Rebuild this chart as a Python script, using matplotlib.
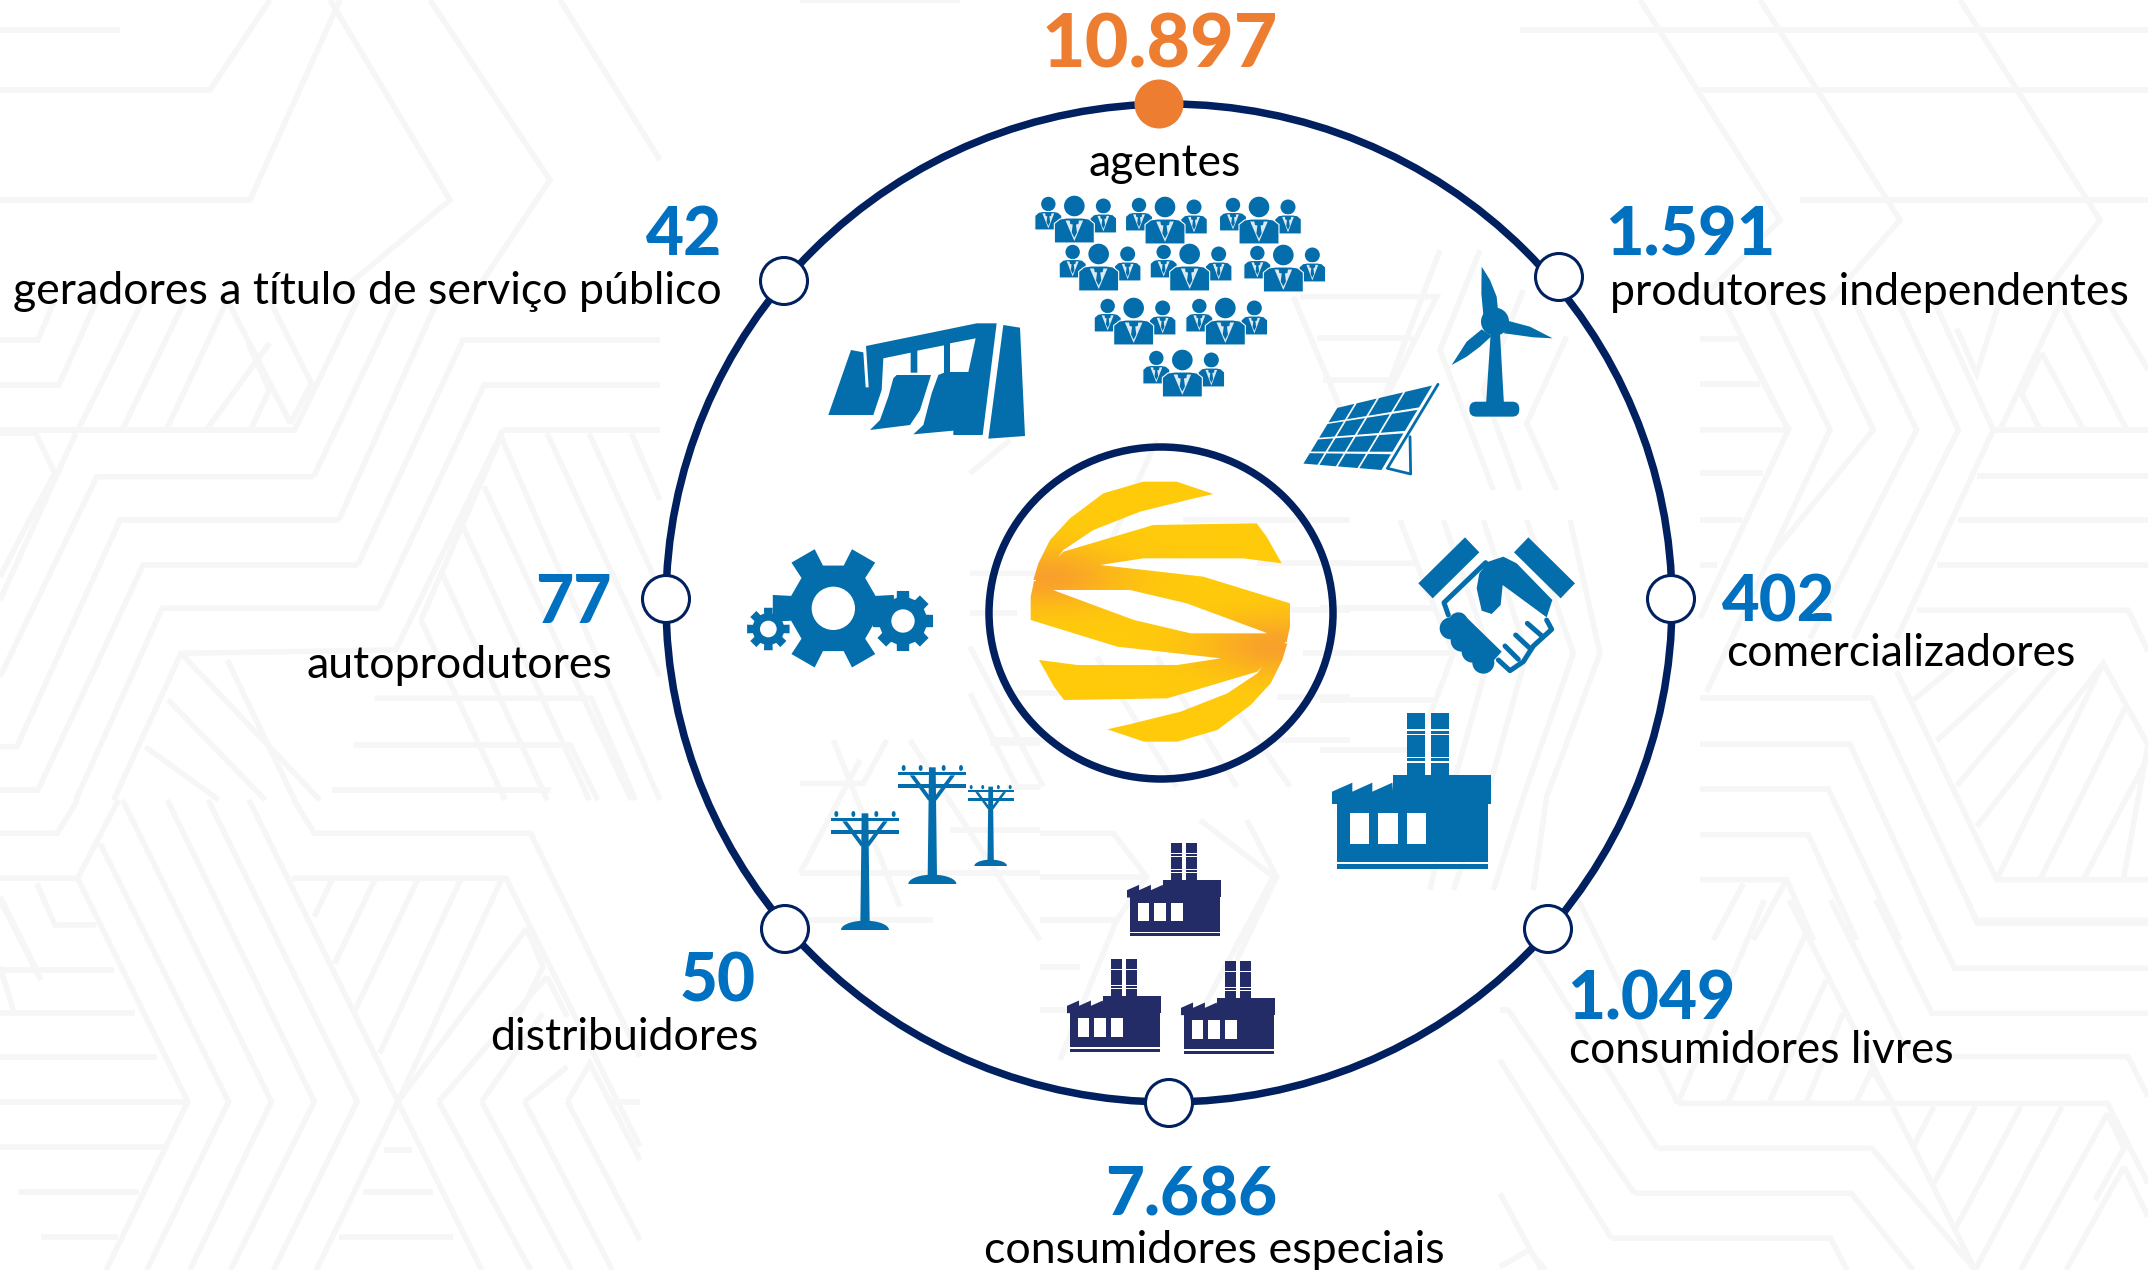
import numpy as np
import matplotlib
matplotlib.use('Agg')
import matplotlib.pyplot as plt
from matplotlib.patches import Ellipse, Circle, Polygon, FancyBboxPatch, PathPatch
from matplotlib.path import Path

# ---------- data ----------
total_value = '10.897'
total_label = 'agentes'
values = ['1.591', '402', '1.049', '7.686', '50', '77', '42']
labels = ['produtores independentes', 'comercializadores', 'consumidores livres',
          'consumidores especiais', 'distribuidores', 'autoprodutores',
          'geradores a título de serviço público']

# ---------- styles ----------
NAVY = '#002060'; BLUE = '#0070c0'; ICON = '#036eab'; DARK = '#232c66'
ORANGE = '#ed7d31'; BG = '#f6f6f6'
W, H = 2148, 1270
fig = plt.figure(figsize=(W/100, H/100), dpi=100, facecolor='white')
ax = fig.add_axes([0, 0, 1, 1])
ax.set_xlim(0, W); ax.set_ylim(H, 0); ax.axis('off')

# ---------- faint background ----------
def bg(ox, oy, sx, sy, lines):
    for ln in lines:
        a = np.array(ln, float)
        ax.plot(ox + a[:, 0]/sx, oy + a[:, 1]/sy, color=BG, lw=4.0, zorder=0,
                solid_joinstyle='miter', solid_capstyle='butt')

bg(0, 800, 2.45, 3, [
    [(0,100),(140,100),(190,0)], [(0,235),(190,235),(290,0)],
    [(190,235),(460,905),(260,1410)], [(300,0),(665,905),(465,1410)],
    [(245,130),(560,905),(360,1410)], [(410,0),(770,905),(565,1410)],
    [(510,0),(875,905),(670,1410)], [(610,0),(975,905),(775,1410)],
    [(0,905),(460,905)], [(0,770),(385,770)], [(0,640),(330,640)], [(0,510),(280,510)],
    [(0,1040),(400,1040)], [(45,1175),(340,1175)], [(100,1310),(290,1310)],
    [(90,250),(135,375),(235,375)], [(0,290),(90,510)], [(0,500),(35,640)],
    [(720,0),(770,100),(1300,100),(1568,770)], [(715,235),(1240,235),(1568,1040)],
    [(1290,385),(1330,500),(1270,650)], [(1340,530),(1390,650)],
    [(975,905),(1290,385)], [(1075,905),(1340,530)], [(1180,905),(1330,640)], [(1285,905),(1390,800)],
    [(1075,905),(1300,1410)], [(1180,905),(1400,1410)], [(1285,905),(1500,1410)], [(1390,905),(1568,1320)],
    [(975,905),(1180,1410)], [(1390,905),(1445,790),(1568,1080)],
    [(815,235),(770,350)], [(920,235),(820,490)], [(1025,235),(870,630)], [(1130,235),(930,760)],
    [(1230,235),(975,905)],
    [(0,300),(100,540)],
    [(940,1050),(1010,1050)], [(890,1175),(1060,1175)], [(830,1310),(1110,1310)],
    [(1500,905),(1568,905)],
])
bg(0, 300, 2.376, 3, [
    [(0,120),(90,120),(130,0)], [(0,255),(140,255),(230,0)],
    [(0,390),(700,390),(850,0)], [(185,390),(340,0)], [(290,390),(440,0)],
    [(395,390),(540,0)], [(490,390),(640,130)], [(595,390),(640,270)],
    [(540,0),(690,370)], [(640,0),(740,250),(690,370)], [(590,130),(640,270)],
    [(745,530),(230,530),(0,1130)], [(805,660),(285,660),(40,1340),(0,1340)],
    [(745,530),(945,0)], [(805,660),(1040,0)],
    [(850,795),(340,795),(90,1470),(0,1470)], [(850,795),(1100,120),(1568,120)],
    [(900,925),(385,925),(180,1500)], [(900,925),(1150,255),(1568,255)],
    [(1195,390),(1568,390)], [(1195,390),(940,1050),(430,1060),(270,1500)],
    [(0,400),(85,400),(130,520),(70,660),(0,830)], [(180,400),(0,900)],
    [(1000,960),(1190,410),(1568,1500)], [(1150,560),(1500,1500)],
    [(1100,680),(1400,1500)], [(1050,820),(1300,1500)],
    [(1000,960),(1200,1500)], [(1300,400),(1568,1130)], [(1400,400),(1568,870)], [(1500,400),(1568,600)],
    [(430,1060),(760,1500)], [(540,1080),(700,1500)], [(400,1200),(630,1500)], [(345,1340),(520,1500)],
    [(890,1195),(1405,1195),(1510,1500)], [(840,1335),(1355,1335),(1420,1500)], [(790,1470),(1310,1470)],
])
bg(1700, 300, 3, 2.45, [
    [(0,95),(120,95),(265,318)], [(0,205),(180,205)], [(0,318),(265,318),(0,780)],
    [(70,0),(265,318)], [(200,0),(390,318),(20,960)], [(330,0),(520,318),(200,640)],
    [(460,0),(650,318),(330,830)], [(590,0),(775,318),(460,830)], [(700,0),(880,318),(590,830)],
    [(0,425),(190,425)], [(0,540),(125,540)], [(0,650),(50,650)],
    [(880,318),(1344,318)], [(830,430),(1344,430)], [(775,540),(1344,540)], [(710,650),(1344,650)],
    [(650,760),(1285,760),(1344,860)], [(900,318),(1085,0)], [(1025,130),(1150,318)], [(1025,130),(965,230)],
    [(965,230),(1020,318)], [(1085,10),(1280,318)], [(1220,0),(1344,170)], [(770,70),(830,180),(900,0)],
    [(0,975),(515,975),(830,1520),(1344,1520)], [(0,1088),(450,1088),(720,1568)],
    [(0,1198),(385,1198),(600,1568)], [(0,1310),(325,1310),(470,1568)], [(0,1420),(260,1420),(340,1568)],
    [(590,910),(890,1420),(1344,1420)], [(890,1420),(1210,890)], [(1020,1420),(1275,1000)], [(1150,1420),(1344,1120)],
    [(640,980),(760,900)], [(710,1080),(950,900)], [(770,1190),(1070,900)], [(830,1290),(1210,890),(1344,1090),(1270,1420)],
    [(130,1430),(40,1568)], [(260,1420),(160,1568)],
])
bg(1500, 900, 2.42, 3, [
    [(1130,0),(1155,70),(1568,70)], [(1020,0),(1100,205),(1568,205)], [(910,0),(1045,340),(1568,340)],
    [(800,0),(990,470),(1520,470),(1568,590)], [(700,0),(945,600)],
    [(430,610),(1470,610),(1568,850)], [(380,745),(900,745),(1150,1110)],
    [(325,880),(850,880),(1000,1110)], [(270,1015),(800,1015),(840,1110)],
    [(430,610),(640,0)], [(550,610),(740,100)], [(650,610),(790,240)], [(740,610),(830,340)],
    [(860,610),(900,510),(950,610)], [(190,0),(430,610)], [(70,130),(380,745)], [(0,330),(20,330),(325,880)],
    [(0,480),(270,1015)], [(0,880),(100,1110)], [(1000,740),(1050,620)], [(1050,850),(1150,620)],
    [(1100,990),(1260,620)], [(1150,1110),(1360,620)], [(1260,1110),(1470,640)], [(1370,1110),(1510,800)],
    [(1470,640),(1510,745),(1440,900)], [(1000,740),(1150,1110)], [(950,620),(1000,740)], [(1510,800),(1568,950)],
    [(0,1100),(70,1050),(110,1110)],
])
# centre: bands seen behind the icons
bg(1320, 520, 3, 3, [
    [(0,130),(290,130),(400,400),(290,690),(0,690)], [(0,265),(350,265)], [(0,400),(400,400)], [(0,540),(350,540)],
    [(240,0),(290,130)], [(370,0),(510,400),(390,830),(330,1110)], [(490,0),(620,400),(500,830),(400,1110)],
    [(620,0),(760,400),(610,830),(520,1110)], [(750,0),(840,400),(680,830),(640,1110)],
])
bg(1280, 250, 3, 3, [
    [(60,140),(470,140),(290,500)], [(110,265),(400,265)], [(130,390),(340,390)], [(40,140),(200,520)],
    [(480,0),(290,500)], [(600,0),(480,300),(640,720)], [(730,120),(610,420),(720,720)], [(860,260),(740,520),(830,720)],
])
bg(970, 440, 3, 3, [
    [(0,100),(120,0)], [(0,400),(380,400),(560,0)], [(0,520),(140,520)], [(640,240),(1140,240)], [(860,370),(1140,370)],
    [(960,510),(1140,510)], [(1000,640),(1140,640)], [(0,620),(220,1040)], [(0,760),(140,1040)],
    [(130,760),(330,760)], [(70,900),(270,900)], [(380,650),(620,1040)], [(560,650),(800,1040)],
    [(880,900),(1140,900)], [(920,770),(1140,770)], [(780,780),(960,1040)],
])
bg(800, 740, 3, 3, [
    [(0,130),(190,130),(260,0)], [(0,400),(720,400)], [(20,540),(400,540)], [(100,0),(300,500)], [(330,0),(720,600)],
    [(570,10),(720,10)], [(620,140),(720,140)], [(450,270),(720,270)], [(0,400),(180,60)],
])
bg(1040, 820, 3, 3, [
    [(0,40),(220,40),(320,170),(230,300),(0,300)], [(0,170),(310,170)], [(0,440),(120,440)], [(0,570),(90,570)],
    [(480,0),(700,170),(460,620)], [(620,0),(710,170),(590,420)], [(230,300),(60,720)],
])
# upper part of the pattern
bg(0, 0, 1, 1, [
    [(0,90),(210,90),(270,0)], [(0,200),(250,200),(340,0)], [(0,30),(120,30)],
    [(330,0),(450,200),(330,300)], [(430,0),(550,180),(470,300)], [(560,0),(660,160)],
    [(800,0),(960,0)], [(1520,30),(2148,30)], [(1700,90),(2148,90)], [(1800,200),(2148,200)],
    [(1640,0),(1780,220),(1700,300)], [(1760,0),(1900,220),(1830,300)], [(1960,0),(2100,220),(2040,300)],
])

# ---------- main ring ----------
ax.add_patch(Ellipse((1169, 603), 1006, 998, fill=False, ec=NAVY, lw=5.4, zorder=2))

# ---------- logo ----------
def zp(ox, oy, s, pts):
    a = np.array(pts, float)
    return np.column_stack([ox + a[:, 0]/s, oy + a[:, 1]/s])

A = [(730,162),(660,178),(510,215),(370,270),(280,330),(215,420),(190,420),(205,370),(240,300),(300,235),(400,160),(520,125),(620,125)]
B = [(280,335),(550,255),(860,250),(890,290),(935,370),(820,355),(520,355),(390,375),(250,445),(190,430)]
C = [(390,375),(700,410),(960,490),(960,560),(950,605),(880,575),(650,490),(480,450),(250,450),(190,425)]
logo = []
for shape in (A, B, C):
    p = np.array(shape, float)
    logo.append(p)
    logo.append(np.array([1142, 1030]) - p)
logo = [zp(970, 440, 3, p) for p in logo]
paths = [Path(np.vstack([p, p[0]]), closed=True) for p in logo]
compound = Path.make_compound_path(*paths)
gx, gy = np.meshgrid(np.linspace(1020, 1300, 280), np.linspace(470, 755, 285))
def blob(cx, cy):
    return np.exp(-(((gx-cx)/75)**2 + ((gy-cy)/30)**2))
mix = np.clip(blob(1046, 577) + blob(1278, 646), 0, 1)[..., None]
rgb = (1-mix)*np.array([1, .796, .043]) + mix*np.array([.976, .63, .17])
im = ax.imshow(rgb, extent=(1020, 1300, 755, 470), zorder=3, aspect='auto', interpolation='bilinear')
im.set_clip_path(PathPatch(compound, transform=ax.transData))
ax.set_xlim(0, W); ax.set_ylim(H, 0)

ax.add_patch(Ellipse((1161, 613), 344, 332, fill=False, ec=NAVY, lw=5.4, zorder=4))

# ---------- icons ----------
def poly(pts, color=ICON, z=3, **kw):
    ax.add_patch(Polygon(pts, closed=True, fc=color, zorder=z, **{'ec': 'none', **kw}))

def person(cx, cy, r, bw, top, bottom, z):
    ax.add_patch(Circle((cx, cy), r, fc=ICON, ec='none', zorder=z))
    h = bottom-top
    poly([(cx-bw, bottom), (cx-bw, top+h*.22), (cx-bw*.72, top+h*.04), (cx-bw*.4, top), (cx+bw*.4, top),
          (cx+bw*.72, top+h*.04), (cx+bw, top+h*.22), (cx+bw, bottom)], z=z, ec='white', lw=0.8)
    poly([(cx-bw*.44, top+h*.1), (cx+bw*.44, top+h*.1), (cx, top+h*.92)], color='#dbe9f2', z=z)
    poly([(cx-bw*.24, top+h*.07), (cx+bw*.24, top+h*.07), (cx+bw*.2, top+h*.24), (cx+bw*.08, top+h*.26),
          (cx+bw*.13, top+h*.58), (cx, top+h*.78), (cx-bw*.13, top+h*.58), (cx-bw*.08, top+h*.26),
          (cx-bw*.2, top+h*.24)], z=z)

def group(zx, zy):
    x = 980 + zx/3; y = 180 + zy/3
    person(x-26, y-2, 7.2, 13.5, y+5.5, y+24, 5)
    person(x+29, y, 7.5, 13.3, y+8, y+27, 5)
    person(x, y, 10.3, 20, y+12, y+37, 6)

for zx, zy in [(283,78),(555,81),(837,81),(356,222),(629,222),(910,225),(461,384),(736,384),(607,540)]:
    group(zx, zy)

# dam
Z = (800, 300, 3)
poly(zp(*Z, [(198,138),(530,70),(590,70),(548,405),(460,405),(460,392),(340,403),(370,375),(395,280),(415,225),(432,218),
             (432,136),(352,152),(352,218),(332,218),(332,158),(250,175),(245,270),(220,345),(85,345),(153,150),(190,157),(197,262),(206,262)]))
poly(zp(*Z, [(450,130),(527,115),(505,216),(450,216)]), color='white', z=4)
poly(zp(*Z, [(290,225),(393,225),(360,330),(330,375),(210,390),(240,360),(265,290),(280,235)]))
poly(zp(*Z, [(610,75),(660,83),(675,408),(565,416)]))

# solar panel
Z = (1280, 250, 3)
TL, TR, BR, BL = np.array([170,472.]), np.array([462,402.]), np.array([305,664.]), np.array([66,643.])
def pp(u, v):
    return (1-v)*((1-u)*TL + u*TR) + v*((1-u)*BL + u*BR)
us = [0, .2, .43, .7, 1]; vs = [0, .28, .55, .79, 1]
gap = .012
for i in range(4):
    for j in range(4):
        u0, u1, v0, v1 = us[i]+gap, us[i+1]-gap, vs[j]+gap*1.2, vs[j+1]-gap*1.2
        poly(zp(*Z, [pp(u0,v0), pp(u1,v0), pp(u1,v1), pp(u0,v1)]))
def zline(Z, pts, lw, color=ICON, z=3, cap='round'):
    q = zp(*Z, pts)
    ax.plot(q[:,0], q[:,1], color=color, lw=lw, zorder=z, solid_capstyle=cap, solid_joinstyle='round')
zline(Z, [(474,403),(322,655),(392,672),(390,560)], 2.0)

# wind turbine
poly(zp(*Z, [(632,250),(660,250),(672,465),(618,465)]))
ax.add_patch(FancyBboxPatch((1280+575/3, 250+462/3), 136/3, 31/3, boxstyle='round,pad=2.3,rounding_size=7', fc=ICON, ec='none', zorder=3))
ax.add_patch(Circle((1280+645/3, 250+215/3), 14, fc=ICON, ec='none', zorder=3))
poly(zp(*Z, [(605,50),(630,90),(650,140),(655,190),(610,195),(604,130)]))
poly(zp(*Z, [(818,265),(760,262),(710,255),(672,250),(682,212),(750,230)]))
poly(zp(*Z, [(515,345),(560,320),(600,290),(635,258),(605,238),(560,275)]))

# handshake
Z = (1320, 520, 3)
poly(zp(*Z, [(295,190),(435,52),(478,97),(338,235)]))
poly(zp(*Z, [(582,97),(625,52),(765,190),(722,235)]))
poly(zp(*Z, [(470,205),(478,160),(505,125),(550,110),(590,130),(697,240),(680,292),(548,195),(542,255),(515,282),(485,272)]))
zline(Z, [(497,128),(372,248),(385,285)], 3.6)
zline(Z, [(680,300),(695,328),(640,378),(610,425),(570,452),(535,420)], 3.6)
zline(Z, [(622,310),(668,350)], 3.6); zline(Z, [(587,345),(630,385)], 3.6); zline(Z, [(555,378),(595,418)], 3.6)
for cx, cy, r in [(392,325,33),(425,362,33),(458,395,33),(490,428,33),(415,305,28)]:
    ax.add_patch(Circle((1320+cx/3, 520+cy/3), r/3, fc=ICON, ec='none', zorder=3))
poly(zp(*Z, [(395,295),(425,278),(545,395),(500,445)]))

# gears
def gear(cx, cy, R, r, hole, n, phase=0., wide=.32):
    pts = []
    for k in range(n):
        a = phase + 2*np.pi*k/n
        d = 2*np.pi/n
        for ang, rad in [(a-d*wide*1.05, r), (a-d*wide*.8, R), (a+d*wide*.8, R), (a+d*wide*1.05, r)]:
            pts.append((cx + rad*np.cos(ang), cy + rad*np.sin(ang)))
    poly(pts, z=3)
    ax.add_patch(Circle((cx, cy), hole, fc='white', ec='none', zorder=4))
zx, zy = 720, 530
gear(zx+340/3, zy+235/3, 186/3, 132/3, 65/3, 6, 0., .26)
gear(zx+549/3, zy+273/3, 92/3, 72/3, 35/3, 8, 0)
gear(zx+145/3, zy+297/3, 65/3, 48/3, 25/3, 8, 0)

# poles
def pole(zcx, zbase, k):
    f = lambda dx, dy: (800 + (zcx + dx*k)/3, 740 + (zbase + dy*k)/3)
    poly([f(-10,-350), f(10,-350), f(14,-20), f(-14,-20)])
    for y0, y1 in [(-337,-326), (-300,-288)]:
        poly([f(-102,y0), f(102,y0), f(102,y1), f(-102,y1)])
    poly([f(-68,-326), f(-54,-326), f(-5,-260), f(-12,-250)])
    poly([f(68,-326), f(54,-326), f(5,-260), f(12,-250)])
    for dx in (-86,-35,34,86):
        ax.add_patch(Ellipse(f(dx,-348), 10*k/3+.6, 16*k/3+.6, fc=ICON, ec='none', zorder=3))
    t = np.linspace(0, np.pi, 30)
    poly([f(72*np.cos(a), -28*np.sin(a)) for a in t])
pole(195, 570, 1); pole(397, 432, 1); pole(572, 378, .68)

# factories
def factory(x, y, k, color):
    f = lambda a, b: (x + (a-36)*k, y + (b-578)*k)
    rect = lambda a0, a1, b0, b1, c=color, z=3: poly([f(a0,b0), f(a1,b0), f(a1,b1), f(a0,b1)], color=c, z=z)
    rect(260,315,578,770); rect(332,388,578,770)
    for b0, b1 in [(628,632),(642,646),(710,714),(724,728)]:
        rect(260,388,b0,b1,'white',4)
    rect(220,513,765,852)
    poly([f(36,815), f(97,788), f(97,815), f(157,788), f(157,815), f(217,788), f(222,852), f(36,852)], color=color)
    rect(50,505,850,1025); rect(50,505,1031,1046)
    for a0, a1 in [(90,148),(175,233),(260,318)]:
        rect(a0,a1,878,972,'white',4)
factory(1320+36/3, 520+578/3, 1/3, ICON)
k2 = .593/3
factory(1040+261/3, 820+70/3, k2, DARK)
factory(1040+81/3, 820+417/3, k2, DARK)
factory(1040+423/3, 820+423/3, k2, DARK)

# ---------- nodes ----------
ax.add_patch(Circle((1159, 104), 24.5, fc=ORANGE, ec='none', zorder=7))
for x, y in [(1559,277),(1671,599),(1548,929),(1169,1103),(785,929),(666,599),(784,281)]:
    ax.add_patch(Ellipse((x, y), 47, 47, fc='white', ec=NAVY, lw=2.2, zorder=7))

# ---------- text ----------
FONT = 'Lato'
renderer = fig.canvas.get_renderer()
def fit(s, x0, x1, base, color, weight):
    t = ax.text(x0, base, s, fontfamily=FONT, fontweight=weight, color=color, fontsize=40,
                ha='left', va='baseline', zorder=8)
    w = t.get_window_extent(renderer).width
    t.set_fontsize(40*(x1-x0)/w)

fit(total_value, 1042, 1278, 67, ORANGE, 'black')
fit(total_label, 1088, 1240, 176, 'black', 'normal')
num_pos = [(1605,1775,255), (1722,1835,622), (1567,1735,1019), (1105,1277,1215), (680,756,1002), (535,611,623), (646,722,255)]
lab_pos = [(1610,2128,305), (1726,2075,666), (1569,1953,1063), (984,1444,1263), (490,758,1050), (306,611,678), (13,721,304)]
for v, l, np_, lp in zip(values, labels, num_pos, lab_pos):
    fit(v, *np_, BLUE, 'black')
    fit(l, *lp, 'black', 'normal')

fig.savefig('out.png', dpi=100, facecolor='white')
